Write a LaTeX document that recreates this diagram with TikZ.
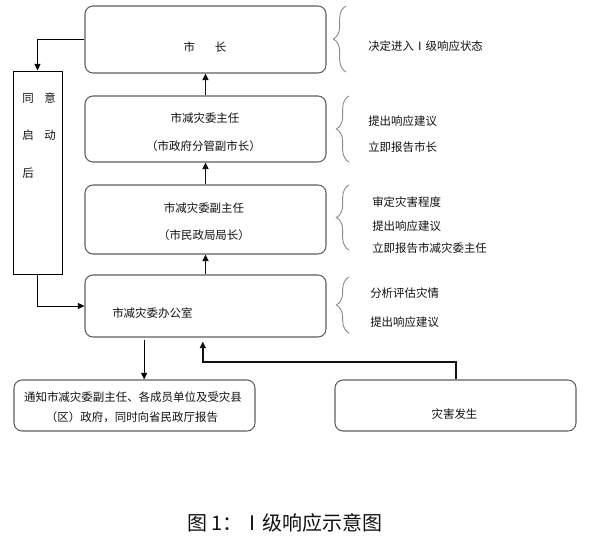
\documentclass[tikz,border=0pt]{standalone}
\usepackage{fontspec}
\newfontfamily\cjk{Noto Sans CJK SC}
\usepackage{xcolor}
\usetikzlibrary{positioning,arrows.meta,decorations.pathreplacing}
\definecolor{bLine}{HTML}{5E5E5E}
\definecolor{bBrace}{HTML}{8C8C8C}
\definecolor{bInk}{HTML}{111111}
\tikzset{
  stagebox/.style={draw=bLine, line width=0.8pt, rounded corners=6pt,
    minimum width=180.75pt, inner sep=0pt},
  sidebox/.style={draw=black, line width=0.75pt, minimum width=36.75pt,
    minimum height=152.25pt, inner sep=0pt},
  txt/.style={font=\cjk\fontsize{8.6pt}{10pt}\selectfont, text=bInk, inner sep=0pt},
  note/.style={txt, anchor=west},
  lbrace/.style={draw=bBrace, line width=0.7pt, decorate,
    decoration={brace, amplitude=9.5pt}},
  upflow/.style={-{Triangle[length=5pt,width=4.5pt]}, line width=1.4pt, bInk},
  thinflow/.style={-{Triangle[length=5pt,width=4.5pt]}, line width=0.75pt, black},
}
\begin{document}
\begin{tikzpicture}[x=0.75pt, y=-0.75pt]
  \useasboundingbox (0,0) rectangle (590,539);
  % main chain
  \node[stagebox, minimum height=50.25pt] (mayor) at (205.5,39.5) {};
  \node[stagebox, minimum height=49.5pt] (director) at (205.5,129) {};
  \node[stagebox, minimum height=51.75pt] (vicedir) at (205.5,219.5) {};
  \node[stagebox, minimum height=46.5pt] (office) at (205.5,306) {};
  \node[stagebox, minimum height=38.25pt] (notice) at (134.5,405.5) {};
  \node[stagebox, minimum height=38.25pt] (disaster) at (455.5,405.5) {};
  \node[sidebox] (consent) at (37.5,172.5) {};
  % box texts
  \node[txt] (mayortxt) at (205,47) {市\hspace{15pt}长};
  \node[txt] (directortxt) at (205,118) {市减灾委主任};
  \node[txt] (directorsub) at (203.5,146) {（市政府分管副市长）};
  \node[txt] (vicedirtxt) at (204,208) {市减灾委副主任};
  \node[txt] (vicedirsub) at (204,235) {（市民政局局长）};
  \node[note] (officetxt) at (112,313) {市减灾委办公室};
  \node[txt] (noticetxt) at (133,397) {通知市减灾委副主任、各成员单位及受灾县};
  \node[txt] (noticesub) at (132,417) {（区）政府，同时向省民政厅报告};
  \node[txt] (disastertxt) at (454.5,414) {灾害发生};
  \node[note] (consenta) at (22,98) {同\hspace{8pt}意};
  \node[note] (consentb) at (22,135) {启\hspace{8pt}动};
  \node[note] (consentc) at (22,173) {后};
  % connectors
  \draw[upflow] (director.north) -- (mayor.south);
  \draw[upflow] (vicedir.north) -- (director.south);
  \draw[upflow] (office.north) -- (vicedir.south);
  \draw[thinflow] (mayor.west) -| (consent.north);
  \draw[thinflow] (consent.south) |- (office.west);
  \draw[thinflow, shorten <=2pt] ([xshift=-46pt]office.south) -- ([xshift=-46pt]office.south |- notice.north);
  \draw[upflow, line width=1.5pt, shorten >=3pt] (disaster.north) -- ++(0,-17) -| ([xshift=-2pt]office.south);
  % duties
  \draw[lbrace] (346,72) -- (346,6);
  \draw[lbrace] (349,162) -- (349,96);
  \draw[lbrace] (349,250) -- (349,185);
  \draw[lbrace] (349,333) -- (349,277);
  \node[note] (dutya) at (368,46) {决定进入Ⅰ级响应状态};
  \node[note] (dutyb) at (368,121) {提出响应建议};
  \node[note] (dutyc) at (368,147) {立即报告市长};
  \node[note] (dutyd) at (372,202) {审定灾害程度};
  \node[note] (dutye) at (372,226) {提出响应建议};
  \node[note] (dutyf) at (372,248) {立即报告市减灾委主任};
  \node[note] (dutyg) at (370,293) {分析评估灾情};
  \node[note] (dutyh) at (370,322) {提出响应建议};
  % caption
  \node[font=\cjk\fontsize{15pt}{18pt}\selectfont, text=bInk, inner sep=0pt] (caption) at (285,523) {图 1：Ⅰ级响应示意图};
\end{tikzpicture}
\end{document}
